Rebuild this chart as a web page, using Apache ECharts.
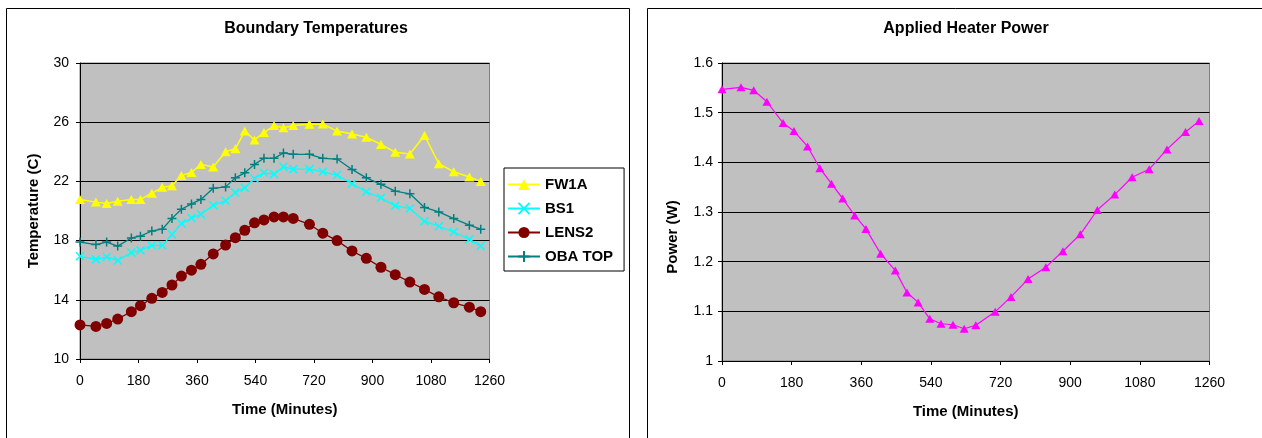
<!DOCTYPE html>
<html>
<head>
<meta charset="utf-8">
<script src="https://cdn.jsdelivr.net/npm/echarts@6/dist/echarts.min.js"></script>
<style>
html,body{margin:0;padding:0;background:#fff;}
#c{width:1262px;height:438px;}
</style>
</head>
<body>
<div id="c"></div>
<script>
// ---- data ----
const times = [0, 49, 82, 116, 158, 186, 221, 253, 283, 312, 343, 372, 410, 448, 478, 507, 537, 566, 597, 626, 656, 706, 747, 791, 837, 881, 926, 970, 1015, 1060, 1104, 1150, 1198, 1233];
const fw1a = [20.78, 20.6, 20.5, 20.66, 20.78, 20.78, 21.2, 21.6, 21.7, 22.4, 22.6, 23.15, 22.97, 24.0, 24.2, 25.4, 24.8, 25.3, 25.77, 25.63, 25.77, 25.86, 25.88, 25.4, 25.2, 24.98, 24.5, 23.97, 23.85, 25.1, 23.2, 22.65, 22.3, 22.0];
const bs1 = [16.94, 16.73, 16.89, 16.66, 17.19, 17.34, 17.68, 17.68, 18.41, 19.15, 19.53, 19.78, 20.39, 20.69, 21.25, 21.57, 22.2, 22.58, 22.49, 22.99, 22.83, 22.83, 22.65, 22.43, 21.84, 21.3, 20.89, 20.35, 20.17, 19.31, 18.97, 18.58, 18.09, 17.63];
const lens2 = [12.3, 12.2, 12.4, 12.7, 13.2, 13.6, 14.1, 14.5, 15.0, 15.6, 16.0, 16.4, 17.1, 17.7, 18.2, 18.7, 19.2, 19.4, 19.6, 19.6, 19.5, 19.1, 18.5, 18.0, 17.3, 16.8, 16.2, 15.7, 15.2, 14.7, 14.2, 13.8, 13.5, 13.2];
const obaTop = [17.9, 17.73, 17.9, 17.63, 18.18, 18.3, 18.65, 18.77, 19.5, 20.12, 20.48, 20.78, 21.53, 21.63, 22.24, 22.58, 23.15, 23.56, 23.56, 23.92, 23.83, 23.83, 23.56, 23.51, 22.81, 22.24, 21.8, 21.34, 21.16, 20.24, 19.94, 19.49, 19.04, 18.77];
const power = [1.547, 1.551, 1.545, 1.522, 1.479, 1.463, 1.432, 1.388, 1.357, 1.327, 1.293, 1.266, 1.216, 1.182, 1.138, 1.118, 1.085, 1.075, 1.073, 1.065, 1.072, 1.099, 1.129, 1.165, 1.189, 1.221, 1.255, 1.304, 1.335, 1.370, 1.386, 1.426, 1.461, 1.483];
const seriesNames = ['FW1A', 'BS1', 'LENS2', 'OBA TOP'];
const titles = ['Boundary Temperatures', 'Applied Heater Power'];
const xName = 'Time (Minutes)';
const yNames = ['Temperature (C)', 'Power (W)'];

const pairs = arr => arr.map((v, i) => [times[i], v]);
const FONT = '"Liberation Sans", Arial, sans-serif';

const chart = echarts.init(document.getElementById('c'), null, {renderer: 'canvas'});

function xAxis(gi) {
  return {
    type: 'value', gridIndex: gi, min: 0, max: 1260, interval: 180,
    name: xName, nameLocation: 'middle', nameGap: 43,
    nameTextStyle: {fontFamily: FONT, fontWeight: 'bold', fontSize: 15, color: '#000'},
    axisLine: {show: true, lineStyle: {color: '#000', width: 1}},
    axisTick: {show: true, inside: false, length: 4, lineStyle: {color: '#000'}},
    axisLabel: {fontFamily: FONT, fontSize: 14, color: '#000', margin: 15, formatter: v => String(v)},
    splitLine: {show: false}
  };
}

const option = {
  animation: false,
  backgroundColor: '#fff',
  title: [
    {text: titles[0], left: 316, top: 21, textAlign: 'center', padding: 0,
     textStyle: {fontFamily: FONT, fontWeight: 'bold', fontSize: 16, color: '#000'}},
    {text: titles[1], left: 966, top: 21, textAlign: 'center', padding: 0,
     textStyle: {fontFamily: FONT, fontWeight: 'bold', fontSize: 16, color: '#000'}}
  ],
  graphic: [
    {type: 'rect', shape: {x: 6.5, y: 8.5, width: 623, height: 450}, style: {fill: 'none', stroke: '#000', lineWidth: 1}, silent: true, z: -1},
    {type: 'rect', shape: {x: 647.5, y: 8.5, width: 700, height: 450}, style: {fill: 'none', stroke: '#000', lineWidth: 1}, silent: true, z: -1}
  ],
  legend: {
    orient: 'vertical', left: 504, top: 168,
    data: seriesNames,
    backgroundColor: '#fff', borderColor: '#000', borderWidth: 1,
    padding: [9, 11, 7, 3], itemGap: 9, itemWidth: 32, itemHeight: 14,
    textStyle: {fontFamily: FONT, fontWeight: 'bold', fontSize: 15, color: '#000'}
  },
  grid: [
    {left: 80, top: 63, width: 409.5, height: 296, show: true, backgroundColor: '#c0c0c0', borderColor: '#808080', borderWidth: 1},
    {left: 722, top: 63, width: 487.5, height: 298, show: true, backgroundColor: '#c0c0c0', borderColor: '#808080', borderWidth: 1}
  ],
  xAxis: [xAxis(0), xAxis(1)],
  yAxis: [
    {type: 'value', gridIndex: 0, min: 10, max: 30, interval: 4,
     name: yNames[0], nameLocation: 'middle', nameGap: 39,
     nameTextStyle: {fontFamily: FONT, fontWeight: 'bold', fontSize: 15, color: '#000'},
     axisLine: {show: true, lineStyle: {color: '#000', width: 1}},
     axisTick: {show: true, length: 4, lineStyle: {color: '#000'}},
     axisLabel: {fontFamily: FONT, fontSize: 14, color: '#000', margin: 11},
     splitLine: {show: true, lineStyle: {color: '#000', width: 1}}},
    {type: 'value', gridIndex: 1, min: 1, max: 1.6, interval: 0.1,
     name: yNames[1], nameLocation: 'middle', nameGap: 42,
     nameTextStyle: {fontFamily: FONT, fontWeight: 'bold', fontSize: 15, color: '#000', padding: [0, 50, 0, 0]},
     axisLine: {show: true, lineStyle: {color: '#000', width: 1}},
     axisTick: {show: true, length: 4, lineStyle: {color: '#000'}},
     axisLabel: {fontFamily: FONT, fontSize: 14, color: '#000', margin: 9,
                 formatter: v => String(+v.toFixed(1))},
     splitLine: {show: true, lineStyle: {color: '#000', width: 1}}}
  ],
  series: [
    {name: seriesNames[0], type: 'line', xAxisIndex: 0, yAxisIndex: 0, data: pairs(fw1a),
     symbol: 'triangle', symbolSize: [10, 9],
     lineStyle: {color: '#ffff00', width: 1.5}, itemStyle: {color: '#ffff00', borderWidth: 0}},
    {name: seriesNames[1], type: 'line', xAxisIndex: 0, yAxisIndex: 0, data: pairs(bs1),
     symbol: 'path://M0 0L10 10M10 0L0 10', symbolSize: 8,
     lineStyle: {color: '#00ffff', width: 1.3}, itemStyle: {color: '#00ffff', borderColor: '#00ffff', borderWidth: 1.5}},
    {name: seriesNames[2], type: 'line', xAxisIndex: 0, yAxisIndex: 0, data: pairs(lens2),
     symbol: 'circle', symbolSize: 11,
     lineStyle: {color: '#800000', width: 1.3}, itemStyle: {color: '#800000', borderWidth: 0}},
    {name: seriesNames[3], type: 'line', xAxisIndex: 0, yAxisIndex: 0, data: pairs(obaTop),
     symbol: 'path://M5 0L5 10M0 5L10 5', symbolSize: 9,
     lineStyle: {color: '#008080', width: 1.3}, itemStyle: {color: '#008080', borderColor: '#008080', borderWidth: 1.5}},
    {name: 'Power', type: 'line', xAxisIndex: 1, yAxisIndex: 1, data: pairs(power),
     symbol: 'triangle', symbolSize: [9, 8],
     lineStyle: {color: '#ff00ff', width: 1.2}, itemStyle: {color: '#ff00ff', borderWidth: 0}}
  ]
};
chart.setOption(option);
</script>
</body>
</html>
